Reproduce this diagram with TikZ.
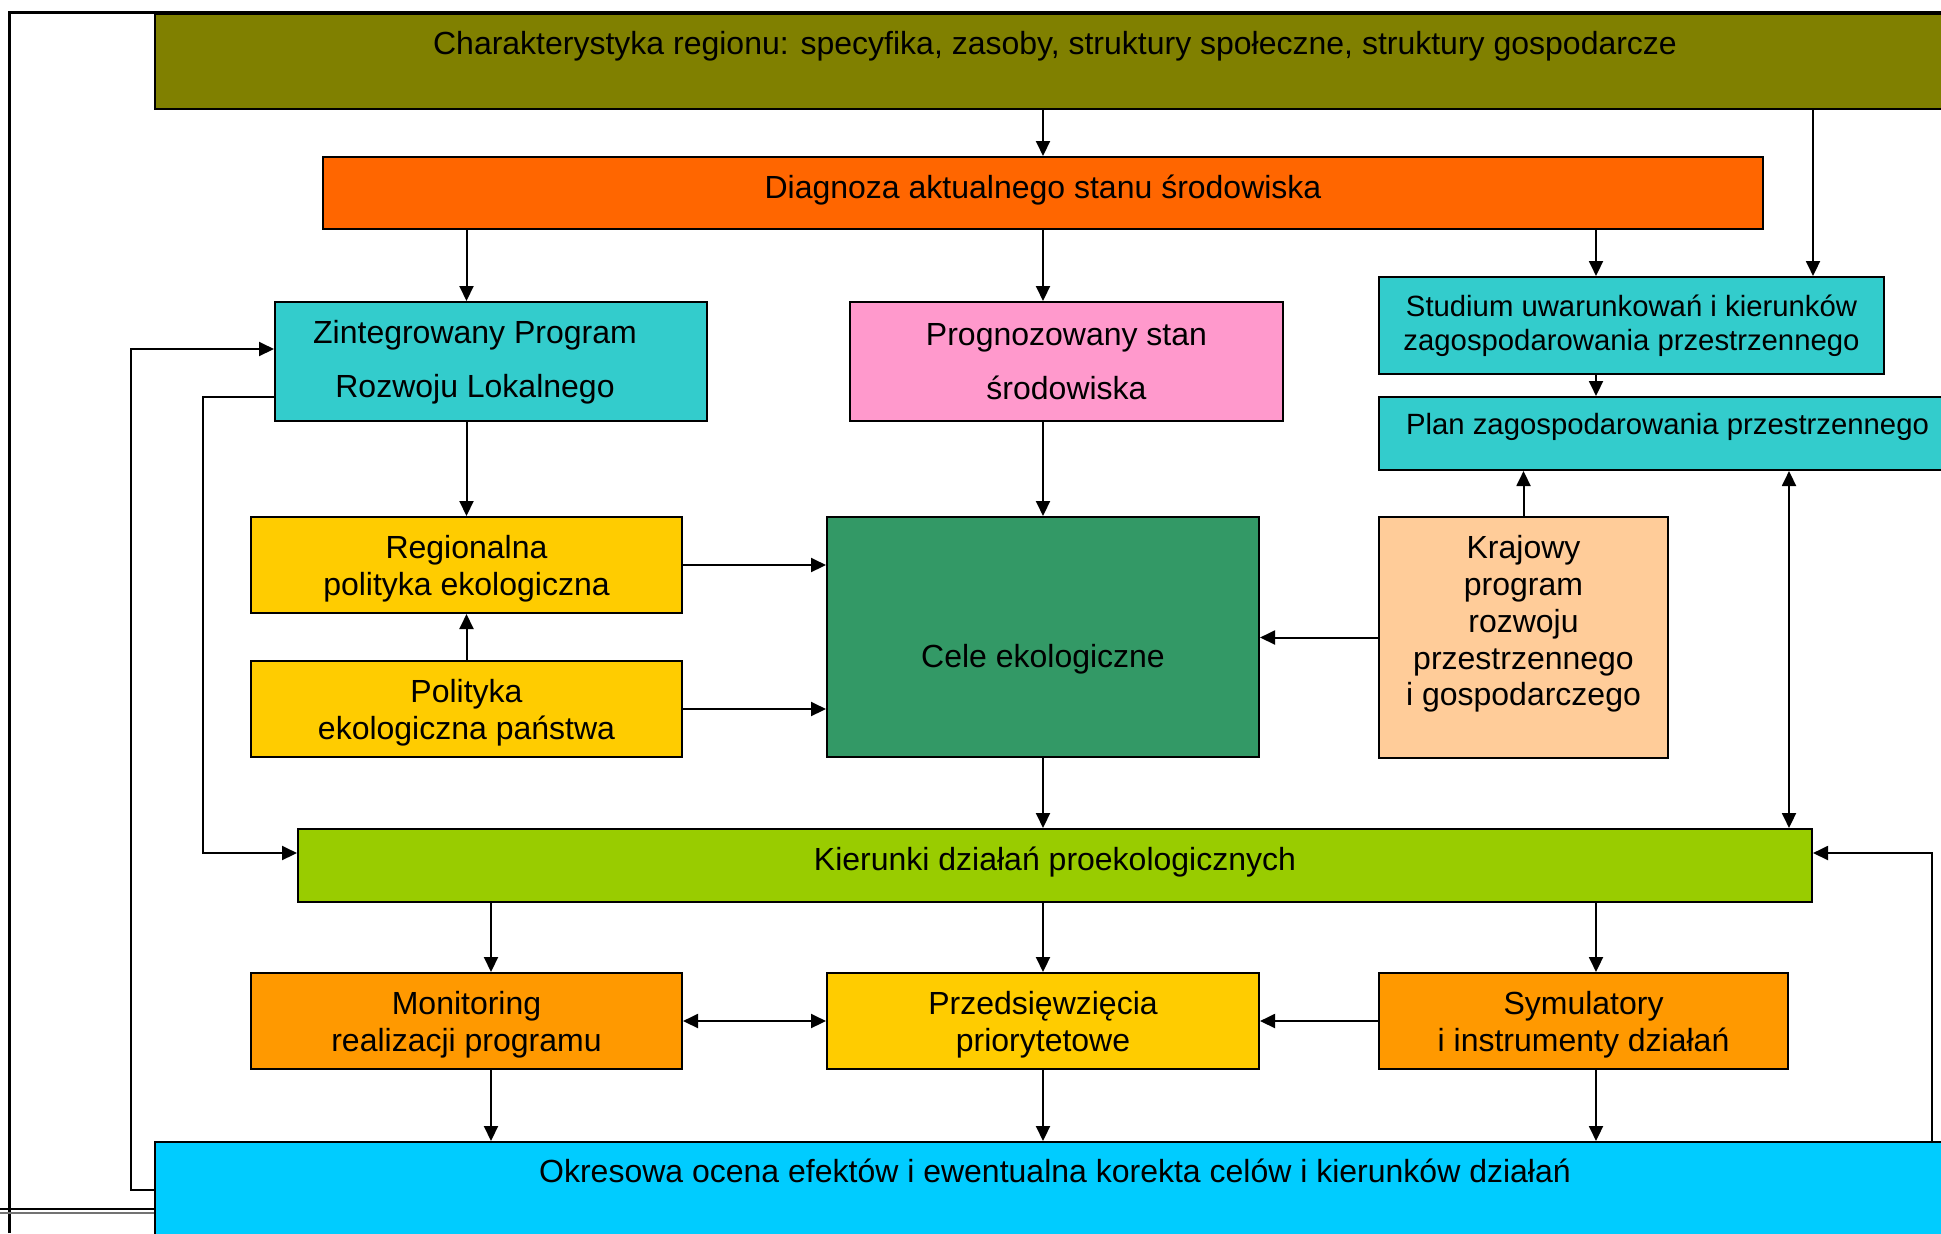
\documentclass[tikz,border=0pt]{standalone}
\usepackage{fontspec}
\setmainfont{Liberation Sans}
\usetikzlibrary{arrows.meta}
\definecolor{oliwka}{HTML}{808000}
\definecolor{pomarancz}{HTML}{FF6600}
\definecolor{turkus}{HTML}{33CCCC}
\definecolor{roz}{HTML}{FF99CC}
\definecolor{zolty}{HTML}{FFCC00}
\definecolor{zielen}{HTML}{339966}
\definecolor{brzoskwinia}{HTML}{FFCC99}
\definecolor{limonka}{HTML}{99CC00}
\definecolor{oranz}{HTML}{FF9900}
\definecolor{blekit}{HTML}{00CCFF}
\tikzset{
  box/.style={draw, line width=1pt, inner sep=0pt, align=center,
    font=\fontsize{16pt}{18.5pt}\selectfont},
  txt/.style={inner sep=0pt, align=center, font=\fontsize{16pt}{18.5pt}\selectfont},
  arr/.style={line width=1pt, -{Triangle[length=7.5pt,width=7pt]}},
  darr/.style={line width=1pt, {Triangle[length=7.5pt,width=7pt]}-{Triangle[length=7.5pt,width=7pt]}},
}
\begin{document}
\begin{tikzpicture}[x=0.5pt, y=-0.5pt]
		%%%%% START %%%%%
		\useasboundingbox (0,0) rectangle (1941,1233);
		\clip (0,0) rectangle (1941,1233);
		
		\coordinate (colS) at (1596,0);
		\coordinate (fbR) at (1932,853);
		\coordinate (fbL) at (131,349);
		\coordinate (fbM) at (203,397);
		\coordinate (dl1) at (0,1209);
		\coordinate (dl2) at (0,1213);
		
		% ramka
		\draw[line width=1.5pt] (9,1233) -- (9,12) -- (1941,12);
		
		\node[box, fill=oliwka, minimum width=900pt, minimum height=47.5pt] (olive) at (1055,61.5) {};
		\node[txt, anchor=base] (olive-t) at (1055,54.5) {Charakterystyka regionu: specyfika, zasoby, struktury społeczne, struktury gospodarcze};
		
		\node[box, fill=pomarancz, minimum width=720pt, minimum height=36pt, text depth=6pt] (diag) at (1043,193) {Diagnoza aktualnego stanu środowiska};
		
		\node[box, fill=turkus, minimum width=216pt, minimum height=59.5pt] (zin) at (491,361.5) {};
		\node[txt, font=\fontsize{16pt}{27pt}\selectfont] (zin-t) at (475,362) {Zintegrowany Program\\Rozwoju Lokalnego};
		\node[box, fill=roz, minimum width=216.5pt, minimum height=59.5pt, font=\fontsize{16pt}{27pt}\selectfont] (prog) at (1066.5,361.5) {Prognozowany stan\\środowiska};
		
		\node[box, fill=turkus, minimum width=252.5pt, minimum height=48.5pt, font=\fontsize{14.65pt}{17pt}\selectfont] (stud) at (1631.5,325.5) {Studium uwarunkowań i kierunków\\zagospodarowania przestrzennego};
		\node[box, fill=turkus, minimum width=288.5pt, minimum height=36.5pt, text depth=9.6pt, font=\fontsize{14.65pt}{17pt}\selectfont] (plan) at (1667.5,433.5) {Plan zagospodarowania przestrzennego};
		
		\node[box, fill=zolty, minimum width=215.5pt, minimum height=48pt] (reg) at (466.5,565) {};
		\node[txt] (reg-t) at (466.5,569) {Regionalna\\polityka ekologiczna};
		\node[box, fill=zolty, minimum width=215.5pt, minimum height=48pt] (pol) at (466.5,709) {};
		\node[txt] (pol-t) at (466.5,713) {Polityka\\ekologiczna państwa};
		
		\node[box, fill=zielen, minimum width=216pt, minimum height=120pt] (cele) at (1043,637) {};
		\node[txt] (cele-t) at (1043,659) {Cele ekologiczne};
		
		\node[box, fill=brzoskwinia, minimum width=144.5pt, minimum height=120.5pt] (kraj) at (1523.5,637.5) {};
		\node[txt, font=\fontsize{16pt}{18.4pt}\selectfont] (kraj-t) at (1523.5,624) {Krajowy\\program\\rozwoju\\przestrzennego\\i gospodarczego};
		
		\node[box, fill=limonka, minimum width=757pt, minimum height=36.5pt, text depth=7.1pt] (kier) at (1055,865.5) {Kierunki działań proekologicznych};
		
		\node[box, fill=oranz, minimum width=215.5pt, minimum height=48pt] (mon) at (466.5,1021) {};
		\node[txt] (mon-t) at (466.5,1025) {Monitoring\\realizacji programu};
		\node[box, fill=zolty, minimum width=216pt, minimum height=48pt] (przed) at (1043,1021) {};
		\node[txt] (przed-t) at (1043,1025) {Przedsięwzięcia\\priorytetowe};
		\node[box, fill=oranz, minimum width=204.5pt, minimum height=48pt] (sym) at (1583.5,1021) {};
		\node[txt] (sym-t) at (1583.5,1025) {Symulatory\\i instrumenty działań};
		
		\node[box, fill=blekit, minimum width=900pt, minimum height=47.5pt] (okr) at (1055,1189.5) {};
		\node[txt, anchor=base] (okr-t) at (1055,1182.5) {Okresowa ocena efektów i ewentualna korekta celów i kierunków działań};
		
		% strzalki
		\draw[arr] (olive.south -| diag.north) -- (diag.north);
		\draw[arr] (olive.south -| kier.east) -- (stud.north -| kier.east);
		\draw[arr] (diag.south -| reg.north) -- (zin.north -| reg.north);
		\draw[arr] (diag.south) -- (prog.north -| diag.south);
		\draw[arr] (diag.south -| colS) -- (stud.north -| colS);
		\draw[arr] (stud.south -| colS) -- (plan.north -| colS);
		\draw[arr] (zin.south -| reg.north) -- (reg.north);
		\draw[arr] (prog.south -| cele.north) -- (cele.north);
		\draw[arr] (pol.north) -- (reg.south);
		\draw[arr] (reg.east) -- (reg.east -| cele.west);
		\draw[arr] (pol.east) -- (pol.east -| cele.west);
		\draw[arr] (kraj.west) -- (kraj.west -| cele.east);
		\draw[arr] (kraj.north) -- (plan.south -| kraj.north);
		\draw[darr] (plan.south -| sym.east) -- (kier.north -| sym.east);
		\draw[arr] (cele.south) -- (kier.north -| cele.south);
		
		\draw[arr] (kier.south -| zin.south) -- (mon.north -| zin.south);
		\draw[arr] (kier.south -| przed.north) -- (przed.north);
		\draw[arr] (kier.south -| colS) -- (sym.north -| colS);
		\draw[darr] (mon.east) -- (przed.west);
		\draw[arr] (sym.west) -- (przed.east);
		\draw[arr] (mon.south -| zin.south) -- (okr.north -| zin.south);
		\draw[arr] (przed.south) -- (okr.north -| przed.south);
		\draw[arr] (sym.south -| colS) -- (okr.north -| colS);
		
		% petle zwrotne
		\draw[arr] (okr.north -| fbR) -- (fbR) -- (fbR -| kier.east);
		\draw[arr] (okr.west) -| (fbL) -- (fbL -| zin.west);
		\draw[arr] (fbM -| zin.west) -- (fbM) |- (kier.west |- fbR);
		
		\draw[line width=1pt] (dl1) -- (dl1 -| okr.west);
		\draw[line width=0.8pt, black!55] (dl2) -- (dl2 -| okr.west);
		%%%%% END %%%%%
\end{tikzpicture}
\end{document}
